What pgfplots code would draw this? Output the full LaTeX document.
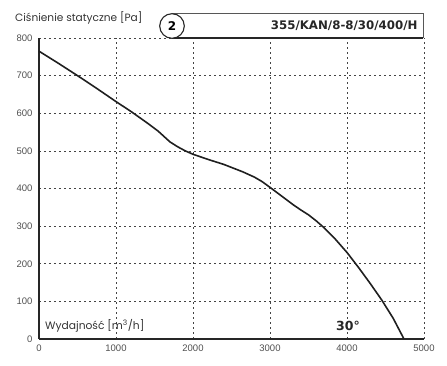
\documentclass[border=0pt]{standalone}
\usepackage{fontspec}
\setmainfont{Liberation Sans}
\newfontfamily\geo{Poppins}
\newfontfamily\dvb{DejaVu Sans}
\usepackage{pgfplots}
\pgfplotsset{compat=1.18}
\definecolor{gridc}{HTML}{444444}
\definecolor{tickc}{HTML}{505050}
\begin{document}
\begin{tikzpicture}[x=1pt,y=1pt]
\useasboundingbox (-39,-27) rectangle (408,339);
\begin{axis}[
  at={(0,0)}, anchor=south west,
  scale only axis, width=385pt, height=301pt,
  xmin=0, xmax=5000, ymin=0, ymax=800,
  xtick={0,1000,...,5000}, ytick={0,100,...,800},
  axis lines=left, axis line style={-, line width=1.1pt, black!85},
  major tick length=0pt,
  grid=major,
  major grid style={gridc, line width=0.7pt, dash pattern=on 2pt off 3pt},
  tick label style={font=\fontsize{9.5}{10}\selectfont, text=tickc},
  /pgf/number format/assume math mode=true,
  /pgf/number format/1000 sep={},
  yticklabel style={xshift=-3pt},
  xticklabel style={yshift=-2pt},
  clip=false,
]
\addplot[black!88, line width=1.6pt, line join=round] coordinates {
(0,765) (250,733) (500,700) (750,666) (1000,631) (1200,604) (1400,575)
(1550,552) (1700,524) (1800,511) (1900,500) (2000,491) (2200,477)
(2400,464) (2650,444) (2800,430) (2900,418) (3000,403) (3150,380)
(3300,357) (3400,343) (3500,330) (3600,314) (3700,296) (3850,265)
(4000,230) (4150,190) (4300,148) (4450,104) (4600,55) (4740,0)
};
\end{axis}
% title box
\draw[gridc!90, line width=0.8pt] (133,325.5) -- (384,325.5) -- (384,301);
\draw[black!85, line width=1.1pt] (133,301) -- (384,301);
\draw[black!85, fill=white, line width=1.1pt] (133,313) circle (12.3);
\node[font=\dvb\bfseries\fontsize{12}{12}\selectfont] at (133,313) {2};
\node[anchor=east, font=\dvb\bfseries\fontsize{11.8}{12}\selectfont, text=black!85] at (382,313) {355/KAN/8-8/30/400/H};
\node[anchor=west, font=\geo\fontsize{10.6}{11}\selectfont, text=black!80, inner sep=0pt] at (-24,321) {Ciśnienie statyczne [Pa]};
\node[anchor=west, font=\geo\fontsize{10.7}{11}\selectfont, text=black!80, inner sep=0pt] at (6,13) {Wydajność [m\textsuperscript{3}/h]};
\node[font=\dvb\bfseries\fontsize{12.5}{12}\selectfont, text=black!85] at (309,13) {30°};
\end{tikzpicture}
\end{document}
